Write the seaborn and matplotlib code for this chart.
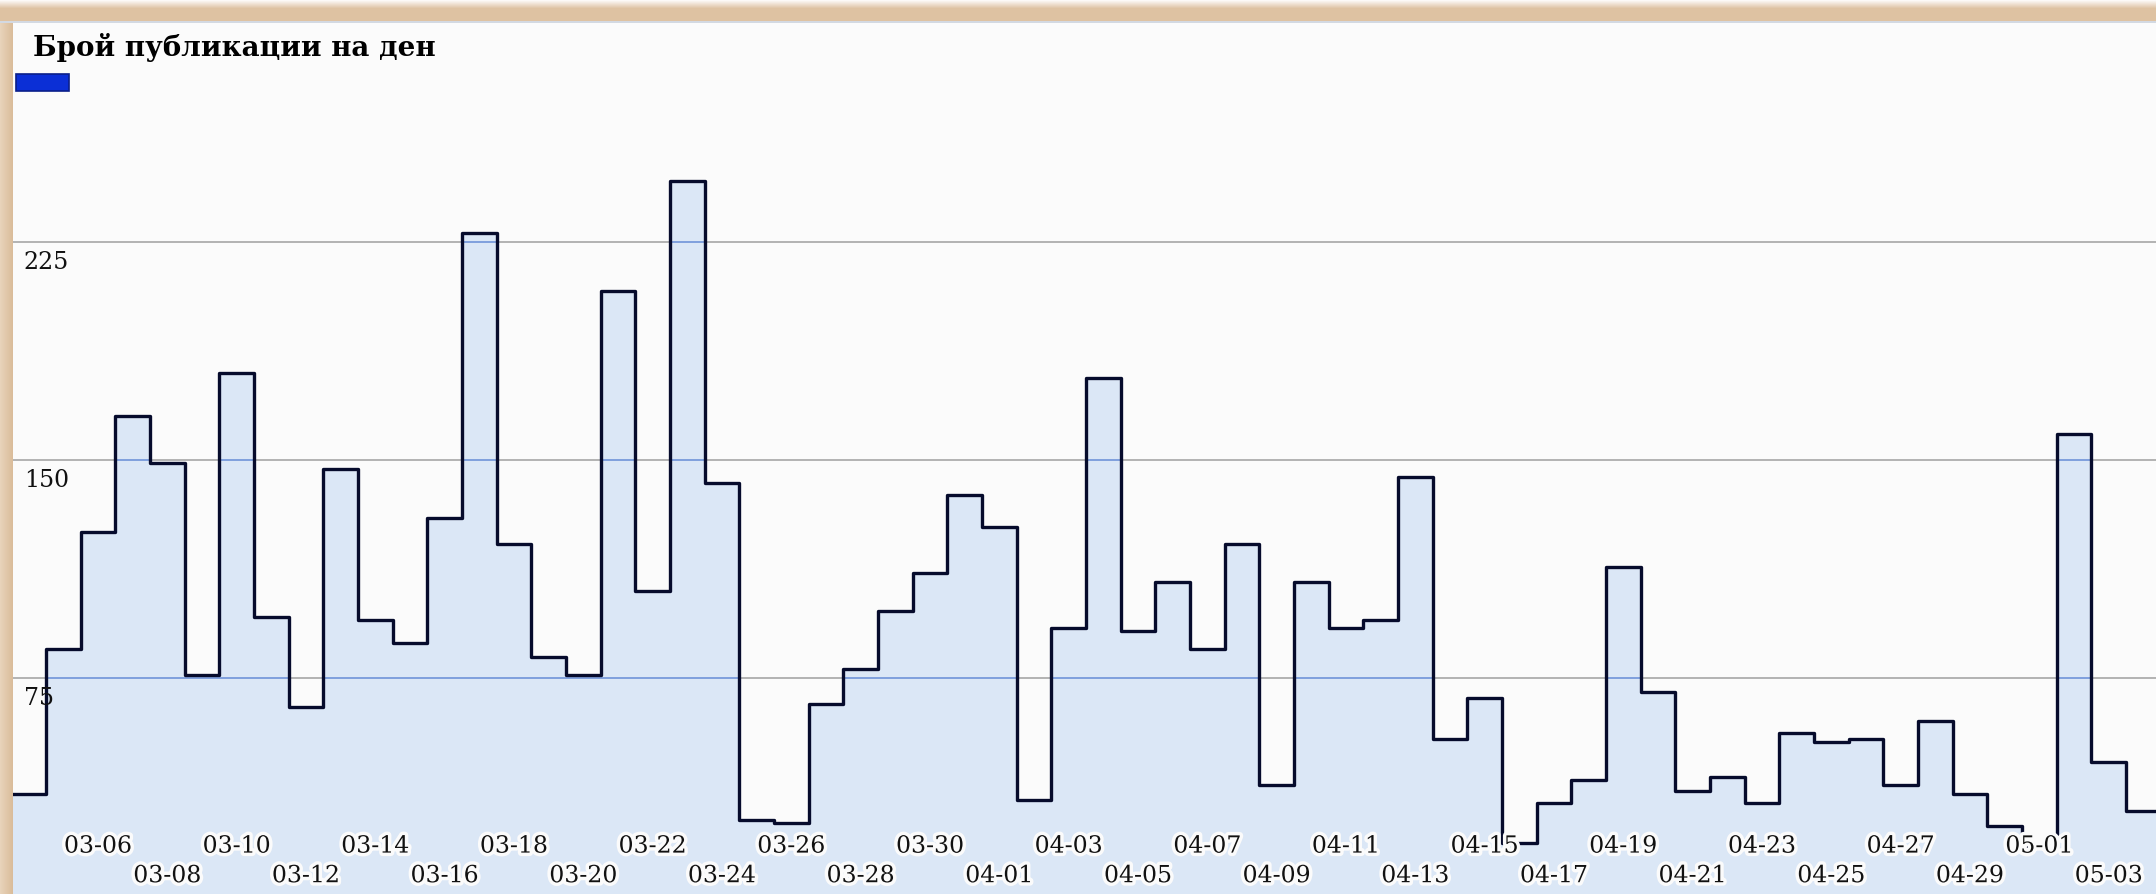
import numpy as np
import pandas as pd
import matplotlib
matplotlib.use("Agg")
import matplotlib.pyplot as plt
import matplotlib.transforms as mtransforms
import matplotlib.patheffects as pe
from matplotlib.patches import Rectangle
from matplotlib.colors import to_rgb
import seaborn as sns

# дни на графиката (03-04 .. 05-04)
days = list(pd.date_range('2014-03-04', '2014-05-04').strftime('%m-%d'))
counts = [35, 85, 125, 165, 149, 76, 180, 96, 65, 147,
          95, 87, 130, 228, 121, 82, 76, 208, 105, 246,
          142, 26, 25, 66, 78, 98, 111, 138, 127, 33,
          92, 178, 91, 108, 85, 121, 38, 108, 92, 95,
          144, 54, 68, 18, 32, 40, 113, 70, 36, 41,
          32, 56, 53, 54, 38, 60, 35, 24, 17, 159,
          46, 29]
y_ticks = [75, 150, 225]
title = 'Брой публикации на ден'

sns.set_style("white")
plt.rcParams['font.family'] = ['DejaVu Serif']

W, H = 2156, 894
left_px, top_px = 13, 23
px_per_unit = 2.906

fig = plt.figure(figsize=(W / 100, H / 100), dpi=100)
fig.patch.set_facecolor('#fbfbfb')

# рамка отгоре и отляво
tan = np.array(to_rgb('#dec2a2'))
top_rows = []
for r in range(top_px):
    if r < 8:
        t = r / 8
        top_rows.append((1 - t) * np.array([0.99, 0.98, 0.97]) + t * tan)
    elif r >= top_px - 2:
        top_rows.append(np.array(to_rgb('#d3d9e2')))
    else:
        top_rows.append(tan)
ax_top = fig.add_axes([0, 1 - top_px / H, 1, top_px / H])
ax_top.imshow(np.array(top_rows)[:, None, :], aspect='auto')
ax_top.axis('off')

left_cols = [(1 - c / left_px) * np.array(to_rgb('#e8d3ba')) + (c / left_px) * np.array(to_rgb('#d9bb98'))
             for c in range(left_px)]
ax_left = fig.add_axes([0, 0, left_px / W, 1 - top_px / H])
ax_left.imshow(np.array(left_cols)[None, :, :], aspect='auto')
ax_left.axis('off')

ax = fig.add_axes([left_px / W, 0, 1 - left_px / W, 1 - top_px / H])
ax.set_facecolor('#fbfbfb')

df = pd.DataFrame({'day': np.arange(len(days)), 'count': counts})

for v in y_ticks:
    ax.axhline(v, color='#a6a6a6', lw=1.2, zorder=0)

sns.histplot(data=df, x='day', weights='count', discrete=True, element='step',
             fill=True, facecolor='#dbe7f6', edgecolor='none', ax=ax, zorder=1)
fill_path = ax.collections[0].get_paths()[0]

# линиите на мрежата вътре в запълването са сини
for v in y_ticks:
    ln = ax.axhline(v, color='#6f93d8', lw=1.2, zorder=1.5)
    ln.set_clip_path(fill_path, ax.transData)

sns.histplot(data=df, x='day', weights='count', discrete=True, element='step',
             fill=False, color='#060b2c', linewidth=2.4, ax=ax, zorder=2)

ax.set_xlim(-0.45, -0.5 + (W - left_px) / 34.64)
ax.set_ylim(0.6, 0.6 + (H - top_px) / px_per_unit)
ax.set_xticks([])
ax.set_yticks([])
ax.set_xlabel('')
ax.set_ylabel('')
for s in ax.spines.values():
    s.set_visible(False)

halo = [pe.withStroke(linewidth=5, foreground='#fbfbfb')]
xtrans = mtransforms.blended_transform_factory(ax.transData, ax.transAxes)
for k, i in enumerate(range(2, len(days) - 1, 2)):
    ax.text(i, 0.055 if k % 2 == 0 else 0.021, days[i], transform=xtrans,
            ha='center', va='center', fontsize=17, color='#111111',
            path_effects=halo, zorder=5)

ytrans = mtransforms.offset_copy(
    mtransforms.blended_transform_factory(ax.transAxes, ax.transData),
    fig=fig, y=-15, units='points')
for v in y_ticks:
    ax.text(0.0050, v, str(v), transform=ytrans, ha='left', va='center',
            fontsize=17, color='#111111', zorder=5)

fig.text(33 / W, 1 - 48 / H, title, fontsize=20, fontweight='bold',
         ha='left', va='center', color='#000000')
fig.add_artist(Rectangle((16 / W, 1 - 91 / H), 53 / W, 17 / H,
                         transform=fig.transFigure, facecolor='#0b2fd6',
                         edgecolor='#0a1f8a', lw=1.2))

fig.savefig('out.png', dpi=100)
